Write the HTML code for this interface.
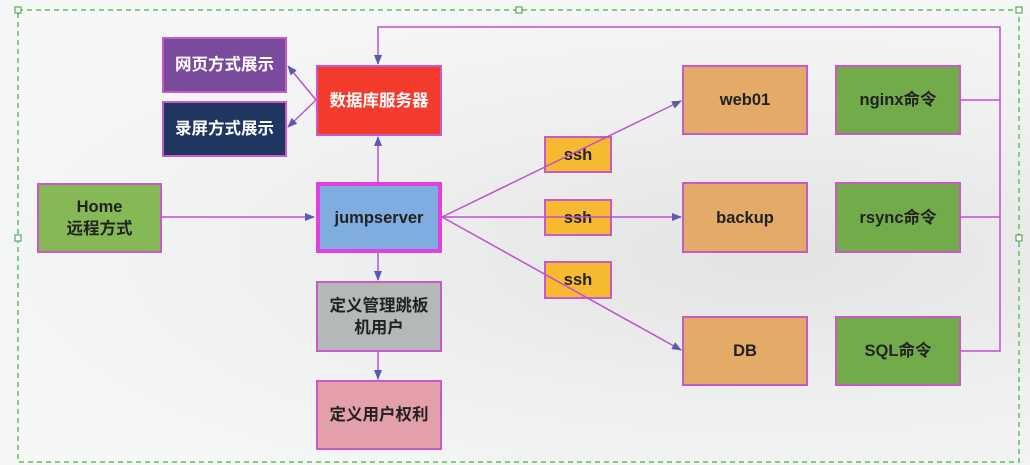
<!DOCTYPE html>
<html><head><meta charset="utf-8"><style>
body{margin:0;width:1030px;height:465px;overflow:hidden;background:radial-gradient(ellipse at 75% 55%,#e2e3e3 0%,#eeefef 40%,#f5f6f6 75%);font-family:"Liberation Sans","Noto Sans CJK SC",sans-serif;}
.b{position:absolute;box-sizing:border-box;border:2px solid #c85ac8;display:flex;align-items:center;justify-content:center;text-align:center;font-weight:bold;font-size:16.5px;color:#222;line-height:22px}
.w{color:#fff}
</style></head><body>
<svg width="1030" height="465" style="position:absolute;left:0;top:0">
<defs><marker id="a" markerWidth="10" markerHeight="8" refX="9" refY="4" orient="auto" markerUnits="userSpaceOnUse"><path d="M0,0L10,4L0,8z" fill="#5a5ab4"/></marker></defs>
<rect x="18" y="10" width="1001" height="452" fill="none" stroke="#5cc45c" stroke-width="1.5" stroke-dasharray="5,4"/>
<g fill="#fff" stroke="#3a9a3a"><rect x="15" y="7" width="6" height="6"/><rect x="516" y="7" width="6" height="6"/><rect x="1016" y="7" width="6" height="6"/><rect x="15" y="235" width="6" height="6"/><rect x="1016" y="235" width="6" height="6"/></g>
<g stroke="#c050d0" stroke-width="1.5" fill="none">
<polyline points="961,100 1000,100 1000,27 378,27 378,64" marker-end="url(#a)"/>
<line x1="961" y1="217" x2="1000" y2="217"/>
<polyline points="961,351 1000,351 1000,100"/>
<line x1="162" y1="217" x2="314" y2="217" marker-end="url(#a)"/>
<line x1="378" y1="182" x2="378" y2="137" marker-end="url(#a)"/>
<line x1="316" y1="100" x2="288" y2="66" marker-end="url(#a)"/>
<line x1="316" y1="100" x2="288" y2="127" marker-end="url(#a)"/>
<line x1="378" y1="253" x2="378" y2="280" marker-end="url(#a)"/>
<line x1="378" y1="352" x2="378" y2="379" marker-end="url(#a)"/>
</g>
</svg>
<div class="b w" style="left:162px;top:37px;width:125px;height:56px;background:#7a4a9c">网页方式展示</div>
<div class="b w" style="left:162px;top:101px;width:125px;height:56px;background:#1e3660">录屏方式展示</div>
<div class="b w" style="left:316px;top:65px;width:126px;height:71px;background:#f33c2e">数据库服务器</div>
<div class="b" style="left:37px;top:183px;width:125px;height:70px;background:#86b856">Home<br>远程方式</div>
<div class="b" style="left:316px;top:182px;width:126px;height:71px;background:#80ade0;border:4px solid #e040e0">jumpserver</div>
<div class="b" style="left:316px;top:281px;width:126px;height:71px;background:#b4b8b8">定义管理跳板<br>机用户</div>
<div class="b" style="left:316px;top:380px;width:126px;height:70px;background:#e4a0aa">定义用户权利</div>
<div class="b" style="left:544px;top:136px;width:68px;height:37px;background:#f6ba30">ssh</div>
<div class="b" style="left:544px;top:199px;width:68px;height:37px;background:#f6ba30">ssh</div>
<div class="b" style="left:544px;top:261px;width:68px;height:38px;background:#f6ba30">ssh</div>
<div class="b" style="left:682px;top:65px;width:126px;height:70px;background:#e4aa68">web01</div>
<div class="b" style="left:682px;top:182px;width:126px;height:71px;background:#e4aa68">backup</div>
<div class="b" style="left:682px;top:316px;width:126px;height:70px;background:#e4aa68">DB</div>
<div class="b" style="left:835px;top:65px;width:126px;height:70px;background:#72ac4a">nginx命令</div>
<div class="b" style="left:835px;top:182px;width:126px;height:71px;background:#72ac4a">rsync命令</div>
<div class="b" style="left:835px;top:316px;width:126px;height:70px;background:#72ac4a">SQL命令</div>
<svg width="1030" height="465" style="position:absolute;left:0;top:0">
<defs><marker id="c" markerWidth="10" markerHeight="8" refX="9" refY="4" orient="auto" markerUnits="userSpaceOnUse"><path d="M0,0L10,4L0,8z" fill="#5a5ab4"/></marker></defs>
<g stroke="#c050d0" stroke-width="1.5" fill="none">
<line x1="442" y1="217" x2="681" y2="101" marker-end="url(#c)"/>
<line x1="442" y1="217" x2="681" y2="217" marker-end="url(#c)"/>
<line x1="442" y1="217" x2="681" y2="350" marker-end="url(#c)"/>
</g></svg>
</body></html>
